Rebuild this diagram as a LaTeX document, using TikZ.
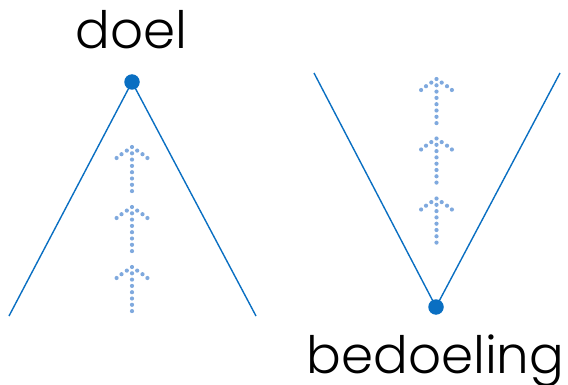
\documentclass[tikz,border=0pt]{standalone}
\usepackage{fontspec}
\newfontfamily\labelfont{Poppins Light}
\begin{document}
\begin{tikzpicture}[x=1pt,y=-1pt,
  edge/.style={draw=lineblue,line width=1.4pt},
  pin/.style={circle,fill=lineblue,inner sep=0pt,minimum size=15.5pt},
  pip/.style={fill=dotblue},
  word/.style={font=\labelfont\fontsize{51.5}{52}\selectfont,text=black,inner sep=0pt,anchor=base}]
\definecolor{lineblue}{HTML}{0A6FC2}
\definecolor{dotblue}{HTML}{7FA9DE}
\useasboundingbox (0,0) rectangle (568,385);

% dotted upward arrow: apex at the given point
\newcommand{\dotarrow}[2]{%
  \begin{scope}[shift={(#1,#2)}]
    \fill[pip] (0,0) circle (2.1);
    \foreach \dx/\dy in {5.2/3.6,10.5/7.2,15.4/11}{
      \fill[pip] (\dx,\dy) circle (2.1);
      \fill[pip] (-\dx,\dy) circle (2.1);
    }
    \foreach \k in {1,...,7}{
      \fill[pip] (0,6.3*\k) circle (2.1);
    }
  \end{scope}}

% left: the goal at the top
\node[pin] (top) at (132,82) {};
\coordinate (tl) at (9,316);
\coordinate (tr) at (256,316);
\draw[edge] (top.center) -- (tl);
\draw[edge] (top.center) -- (tr);
\node[word] (doel) at (131.5,48.5) {doel};
\dotarrow{132}{147}
\dotarrow{132}{207}
\dotarrow{132}{267}

% right: the intention at the bottom
\node[pin] (bottom) at (436,307) {};
\coordinate (vl) at (314,73);
\coordinate (vr) at (560,73);
\draw[edge] (bottom.center) -- (vl);
\draw[edge] (bottom.center) -- (vr);
\node[word] (bedoeling) at (435.5,373) {bedoeling};
\dotarrow{436.5}{79}
\dotarrow{436.5}{138.5}
\dotarrow{436.5}{198.5}
\end{tikzpicture}
\end{document}
